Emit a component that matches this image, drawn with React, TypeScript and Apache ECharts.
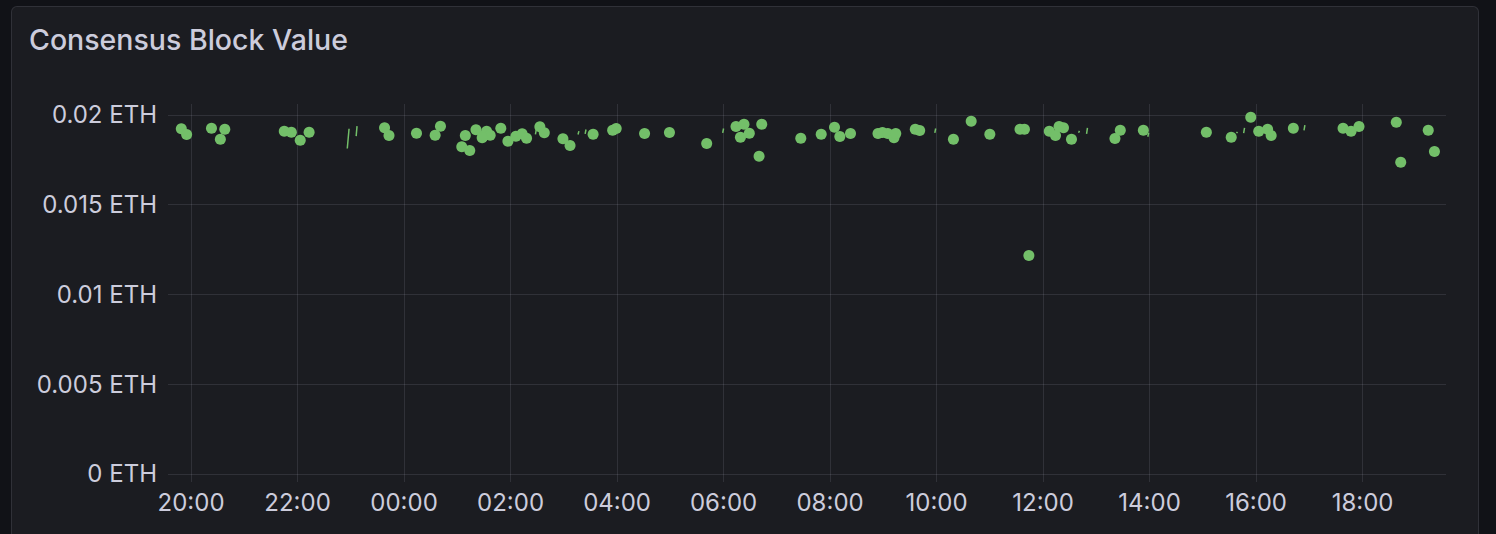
import React, { useEffect, useRef } from "react";
import * as echarts from "echarts";

// ---- data ----
const TITLE = "Consensus Block Value";
const UNIT = "ETH";
const WINDOW_START = "19:34"; // 24h window start (day 1) to same time day 2
const Y_TICKS = [0, 0.005, 0.01, 0.015, 0.02];

// isolated block values: time (HH:MM), value (ETH)
const pointTimes = [
  "19:49", "19:55", "20:23", "20:38", "20:33", "21:45", "21:53", "22:03", "22:13",
  "23:38", "23:43", "00:14", "00:35", "00:41", "01:09", "01:05", "01:14", "01:21",
  "01:29", "01:33", "01:37", "01:28", "01:49", "01:57", "02:06", "02:13", "02:18",
  "02:33", "02:38", "02:59", "03:07", "03:33", "03:55", "03:59", "04:31", "04:59",
  "05:41", "06:14", "06:23", "06:19", "06:29", "06:43", "06:40", "07:27", "07:50",
  "08:05", "08:11", "08:23", "08:54", "08:59", "09:05", "09:12", "09:14", "09:36",
  "09:41", "10:19", "10:39", "11:00", "11:34", "11:39", "11:44", "12:07", "12:14",
  "12:18", "12:23", "12:32", "13:21", "13:27", "13:53", "15:04", "15:32", "15:54",
  "16:03", "16:13", "16:17", "16:42", "17:38", "17:47", "17:56", "18:38", "18:43",
  "19:14", "19:21",
];
const pointValues = [
  0.01922, 0.0189, 0.019254, 0.019198, 0.018641, 0.019087, 0.019031, 0.018585, 0.019031,
  0.019276, 0.018847, 0.018975, 0.018864, 0.019365, 0.018847, 0.018217, 0.018011, 0.019164,
  0.018808, 0.019087, 0.018864, 0.018719, 0.019254, 0.01853, 0.018808, 0.018941, 0.018697,
  0.019332, 0.018997, 0.018663, 0.01829, 0.018919, 0.019142, 0.019237, 0.018958, 0.019014,
  0.018401, 0.019348, 0.019476, 0.018752, 0.018975, 0.019476, 0.017694, 0.018697, 0.018919,
  0.019309, 0.018791, 0.018958, 0.018958, 0.019014, 0.018958, 0.018719, 0.018958, 0.019198,
  0.019125, 0.018641, 0.019643, 0.018919, 0.019198, 0.019198, 0.012162, 0.019087, 0.018847,
  0.019348, 0.019276, 0.018641, 0.01868, 0.019142, 0.019142, 0.019031, 0.018752, 0.019867,
  0.019087, 0.019198, 0.018847, 0.019254, 0.019254, 0.019087, 0.019348, 0.019588, 0.017359,
  0.019142, 0.017955,
];

// consecutive pairs drawn as short line segments
const segmentTimes = [
  ["22:56", "22:58"], ["23:06", "23:07"], ["02:28", "02:29"], ["03:16", "03:17"],
  ["03:24", "03:25"], ["05:59", "06:00"], ["09:58", "09:59"], ["12:40", "12:41"],
  ["12:49", "12:50"], ["13:58", "13:59"], ["15:38", "15:39"], ["15:46", "15:47"],
  ["16:54", "16:55"],
];
const segmentValues = [
  [0.018123, 0.01922], [0.018808, 0.019365], [0.018903, 0.019181], [0.018903, 0.019087],
  [0.018941, 0.019181], [0.018997, 0.019237], [0.018997, 0.019237], [0.0190, 0.0191],
  [0.018941, 0.019276], [0.018775, 0.018997], [0.018975, 0.019053], [0.018975, 0.019276],
  [0.019125, 0.01942],
];

// ---- helpers ----
function minutesOf(hm: string) {
  const [h, m] = hm.split(":").map(Number);
  return h * 60 + m;
}
function toTs(hm: string, forceNextDay = false) {
  const [h, m] = hm.split(":").map(Number);
  const d = new Date(2024, 4, 14, h, m, 0, 0);
  if (forceNextDay || minutesOf(hm) < minutesOf(WINDOW_START)) d.setDate(d.getDate() + 1);
  return d.getTime();
}
const pad = (n: number) => (n < 10 ? "0" + n : "" + n);

const TEXT = "#ccccdc";
const GRID = "rgba(204,204,220,0.12)";
const GREEN = "#73BF69";
const FONT = "Inter, 'Noto Sans', sans-serif";

export default function App() {
  const ref = useRef<HTMLDivElement>(null);

  useEffect(() => {
    if (!ref.current) return;
    const chart = echarts.init(ref.current, undefined, { renderer: "svg" });

    const scatterData = pointTimes.map((t, i) => [toTs(t), pointValues[i]]);
    const lineData: any[] = [];
    segmentTimes.forEach((pair, i) => {
      lineData.push([toTs(pair[0]), segmentValues[i][0]]);
      lineData.push([toTs(pair[1]), segmentValues[i][1]]);
      lineData.push([toTs(pair[1]) + 1000, "-"]);
    });

    const findTick = (v: number) => Y_TICKS.find((t) => Math.abs(t - v) < 1e-9);

    chart.setOption({
      animation: false,
      backgroundColor: "transparent",
      textStyle: { fontFamily: FONT },
      title: {
        text: TITLE,
        left: 24,
        top: 20,
        textStyle: { color: TEXT, fontSize: 28.5, fontWeight: 500, fontFamily: FONT },
      },
      grid: { left: 168, right: 50, top: 104, bottom: 52 },
      xAxis: {
        type: "time",
        min: toTs(WINDOW_START),
        max: toTs(WINDOW_START, true),
        splitNumber: 12,
        minInterval: 2 * 3600 * 1000,
        maxInterval: 2 * 3600 * 1000,
        axisLine: { show: false },
        axisTick: { show: false },
        splitLine: {
          show: true,
          showMinLine: false,
          showMaxLine: false,
          lineStyle: { color: [GRID, "rgba(0,0,0,0)"], width: 1 },
        },
        axisLabel: {
          color: TEXT,
          fontSize: 24,
          fontFamily: FONT,
          margin: 8,
          showMinLabel: false,
          showMaxLabel: false,
          hideOverlap: false,
          formatter: (val: number) => {
            const d = new Date(val);
            if (d.getMinutes() !== 0 || d.getHours() % 2 !== 0) return "";
            return pad(d.getHours()) + ":" + pad(d.getMinutes());
          },
        },
      },
      yAxis: {
        type: "value",
        min: -0.00045,
        max: 0.0206,
        axisLine: { show: false },
        axisTick: { show: false },
        splitLine: {
          show: true,
          showMinLine: false,
          showMaxLine: false,
          lineStyle: { color: GRID, width: 1 },
        },
        axisLabel: {
          color: TEXT,
          fontSize: 24,
          fontFamily: FONT,
          margin: 11,
          showMinLabel: false,
          showMaxLabel: false,
          formatter: (v: number) => {
            const t = findTick(v);
            if (t === undefined) return "";
            return t + " " + UNIT;
          },
        },
      },
      series: [
        {
          type: "line",
          data: lineData,
          showSymbol: false,
          connectNulls: false,
          silent: true,
          lineStyle: { color: GREEN, width: 1.5 },
          z: 1,
        },
        {
          type: "scatter",
          data: scatterData,
          symbol: "circle",
          symbolSize: 11,
          itemStyle: { color: GREEN, opacity: 1 },
          z: 2,
        },
      ],
    });

    return () => chart.dispose();
  }, []);

  return (
    <div
      style={{
        position: "fixed",
        left: 0,
        top: 0,
        width: 1496,
        height: 534,
        background: "#111217",
        overflow: "hidden",
      }}
    >
      <div
        style={{
          position: "absolute",
          left: 11,
          top: 6,
          width: 1468,
          height: 560,
          background: "#1b1c21",
          border: "1px solid rgba(204,204,220,0.12)",
          borderRadius: 6,
          boxSizing: "border-box",
        }}
      />
      <div
        ref={ref}
        style={{ position: "absolute", left: 0, top: 0, width: 1496, height: 534 }}
      />
    </div>
  );
}
